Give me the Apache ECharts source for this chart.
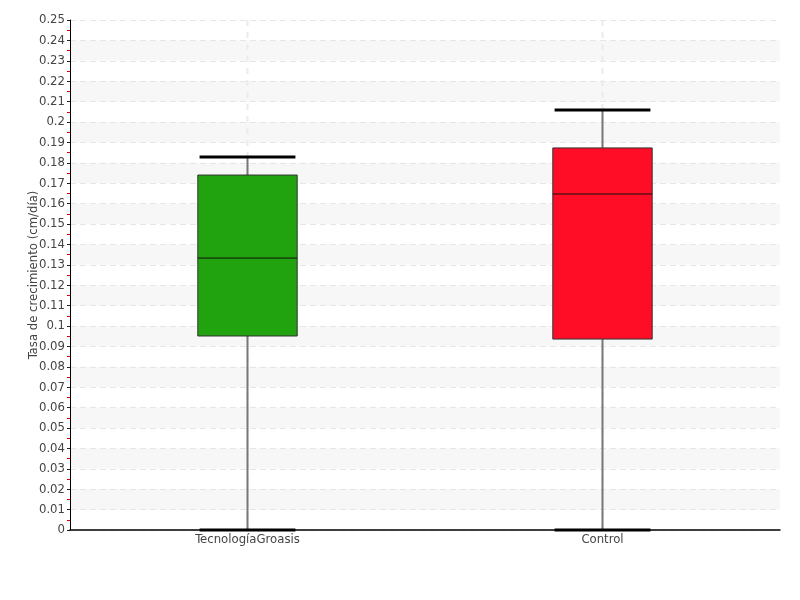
<!DOCTYPE html>
<html>
<head>
<meta charset="utf-8">
<script src="https://cdn.jsdelivr.net/npm/echarts@6/dist/echarts.min.js"></script>
<style>html,body{margin:0;padding:0;background:#fff}#c{width:800px;height:600px}</style>
</head>
<body>
<div id="c"></div>
<script>
var categories = ['TecnologíaGroasis', 'Control'];
var mins = [0, 0];
var q1s = [0.0951, 0.0936];
var medians = [0.1333, 0.1647];
var q3s = [0.174, 0.1873];
var maxs = [0.1828, 0.2059];
var colors = ['#21a30f', '#ff0c27'];

var FONT = '"DejaVu Sans Condensed","Liberation Sans Narrow","DejaVu Sans",sans-serif';
var data = categories.map(function (c, i) { return [i, mins[i], q1s[i], medians[i], q3s[i], maxs[i]]; });

var chart = echarts.init(document.getElementById('c'));
chart.setOption({
  animation: false,
  grid: { left: 70, right: 20, top: 20, bottom: 70 },
  xAxis: {
    type: 'category',
    data: categories,
    axisLine: { lineStyle: { color: '#000', width: 1.5 } },
    axisTick: { show: false },
    axisLabel: { color: '#444', fontSize: 13, fontFamily: FONT, margin: 3 },
    splitLine: { show: false }
  },
  yAxis: {
    type: 'value',
    min: 0, max: 0.25, interval: 0.01,
    name: 'Tasa de crecimiento (cm/día)',
    nameLocation: 'middle',
    nameRotate: 90,
    nameGap: 30,
    nameMoveOverlap: false,
    nameTextStyle: { color: '#444', fontSize: 13, fontFamily: FONT },
    axisLine: { show: true, lineStyle: { color: '#000', width: 1 } },
    axisTick: { show: true, length: 3, lineStyle: { color: '#222' } },
    minorTick: { show: true, splitNumber: 2, length: 3, lineStyle: { color: '#e00000' } },
    axisLabel: { color: '#444', fontSize: 13, fontFamily: FONT, margin: 5 },
    splitLine: { show: true, lineStyle: { color: '#e6e6e6', type: [6, 4], width: 1 } },
    splitArea: { show: true, areaStyle: { color: ['rgba(255,255,255,0)', '#f7f7f7'] } }
  },
  series: [{
    type: 'custom',
    data: data,
    encode: { x: 0, y: [1, 2, 3, 4, 5] },
    renderItem: function (params, api) {
      var i = api.value(0);
      var pMin = api.coord([i, api.value(1)]);
      var pQ1 = api.coord([i, api.value(2)]);
      var pMed = api.coord([i, api.value(3)]);
      var pQ3 = api.coord([i, api.value(4)]);
      var pMax = api.coord([i, api.value(5)]);
      var bw = api.size([1, 0])[0] * 0.28;
      var cw = api.size([1, 0])[0] * 0.27;
      var x = pMed[0];
      var cs = params.coordSys;
      return {
        type: 'group',
        children: [
          { type: 'line', shape: { x1: x, y1: cs.y, x2: x, y2: cs.y + cs.height }, style: { stroke: '#ebebeb', lineWidth: 2, lineDash: [6, 6] }, z2: 0 },
          { type: 'line', shape: { x1: x, y1: pMin[1], x2: x, y2: pQ1[1] }, style: { stroke: '#777', lineWidth: 2 }, z2: 1 },
          { type: 'line', shape: { x1: x, y1: pQ3[1], x2: x, y2: pMax[1] }, style: { stroke: '#777', lineWidth: 2 }, z2: 1 },
          { type: 'rect', shape: { x: x - bw / 2, y: pQ3[1], width: bw, height: pQ1[1] - pQ3[1] }, style: { fill: colors[i], stroke: '#333', lineWidth: 1 }, z2: 2 },
          { type: 'line', shape: { x1: x - bw / 2, y1: pMed[1], x2: x + bw / 2, y2: pMed[1] }, style: { stroke: '#111', lineWidth: 1 }, z2: 3 },
          { type: 'line', shape: { x1: x - cw / 2, y1: pMax[1], x2: x + cw / 2, y2: pMax[1] }, style: { stroke: '#000', lineWidth: 3 }, z2: 3 },
          { type: 'line', shape: { x1: x - cw / 2, y1: pMin[1], x2: x + cw / 2, y2: pMin[1] }, style: { stroke: '#000', lineWidth: 3 }, z2: 3 }
        ]
      };
    }
  }]
});
</script>
</body>
</html>
